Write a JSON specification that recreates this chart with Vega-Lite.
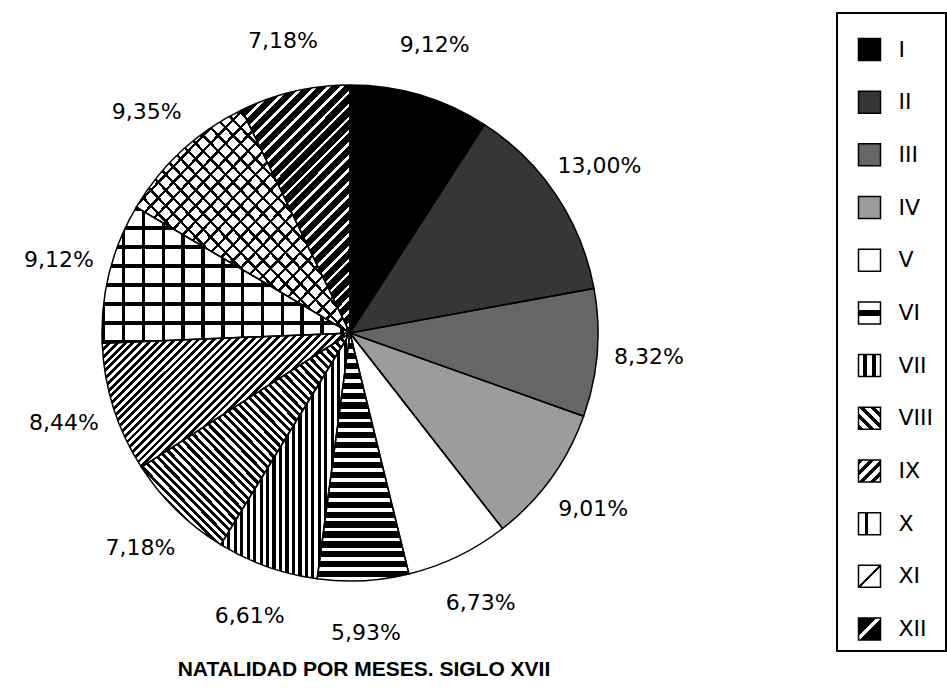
{
 "$schema": "https://vega.github.io/schema/vega-lite/v6.json",
 "padding": {"left": 0, "top": 12, "right": 0, "bottom": 0},
 "background": "white",
 "config": {"view": {"stroke": null}},
 "spacing": 136,
 "data": {"values": [
  {"mes": "I", "n": 1, "pct": 9.12, "etiqueta": "9,12%"},
  {"mes": "II", "n": 2, "pct": 13.00, "etiqueta": "13,00%"},
  {"mes": "III", "n": 3, "pct": 8.32, "etiqueta": "8,32%"},
  {"mes": "IV", "n": 4, "pct": 9.01, "etiqueta": "9,01%"},
  {"mes": "V", "n": 5, "pct": 6.73, "etiqueta": "6,73%"},
  {"mes": "VI", "n": 6, "pct": 5.93, "etiqueta": "5,93%"},
  {"mes": "VII", "n": 7, "pct": 6.61, "etiqueta": "6,61%"},
  {"mes": "VIII", "n": 8, "pct": 7.18, "etiqueta": "7,18%"},
  {"mes": "IX", "n": 9, "pct": 8.44, "etiqueta": "8,44%"},
  {"mes": "X", "n": 10, "pct": 9.12, "etiqueta": "9,12%"},
  {"mes": "XI", "n": 11, "pct": 9.35, "etiqueta": "9,35%"},
  {"mes": "XII", "n": 12, "pct": 7.18, "etiqueta": "7,18%"}
 ]},
 "hconcat": [
 {
 "width": 700,
 "height": 640,
 "title": {"text": "NATALIDAD POR MESES. SIGLO XVII", "orient": "bottom", "anchor": "middle", "dx": 14, "offset": 6, "font": "Liberation Sans", "fontSize": 21, "fontWeight": "bold", "color": "black"},
 "encoding": {
  "theta": {"field": "pct", "type": "quantitative", "stack": true},
  "order": {"field": "n", "type": "quantitative"}
 },
 "layer": [
  {
   "mark": {"type": "arc", "outerRadius": 248},
   "encoding": {
    "color": {
     "field": "mes", "type": "nominal",
     "scale": {"domain": ["I","II","III","IV","V","VI","VII","VIII","IX","X","XI","XII"],
               "range": ["#000000","#363636","#666666","#9c9c9c","#ffffff","#808080","#808080","#808080","#808080","#ffffff","#ffffff","#404040"]},
     "legend": null
    }
   }
  },
  {
   "mark": {"type": "arc", "outerRadius": 248},
   "encoding": {
    "fill": {
     "condition": [
      {"test": "datum.mes === 'VI'", "value": {"gradient": "linear", "x1": 0, "y1": 0, "x2": 0, "y2": 1, "stops": [
{"offset":0,"color":"#000"},{"offset":0.025,"color":"#000"},{"offset":0.025,"color":"#fff"},{"offset":0.04,"color":"#fff"},
{"offset":0.04,"color":"#000"},{"offset":0.065,"color":"#000"},{"offset":0.065,"color":"#fff"},{"offset":0.08,"color":"#fff"},
{"offset":0.08,"color":"#000"},{"offset":0.105,"color":"#000"},{"offset":0.105,"color":"#fff"},{"offset":0.12,"color":"#fff"},
{"offset":0.12,"color":"#000"},{"offset":0.145,"color":"#000"},{"offset":0.145,"color":"#fff"},{"offset":0.16,"color":"#fff"},
{"offset":0.16,"color":"#000"},{"offset":0.185,"color":"#000"},{"offset":0.185,"color":"#fff"},{"offset":0.2,"color":"#fff"},
{"offset":0.2,"color":"#000"},{"offset":0.225,"color":"#000"},{"offset":0.225,"color":"#fff"},{"offset":0.24,"color":"#fff"},
{"offset":0.24,"color":"#000"},{"offset":0.265,"color":"#000"},{"offset":0.265,"color":"#fff"},{"offset":0.28,"color":"#fff"},
{"offset":0.28,"color":"#000"},{"offset":0.305,"color":"#000"},{"offset":0.305,"color":"#fff"},{"offset":0.32,"color":"#fff"},
{"offset":0.32,"color":"#000"},{"offset":0.345,"color":"#000"},{"offset":0.345,"color":"#fff"},{"offset":0.36,"color":"#fff"},
{"offset":0.36,"color":"#000"},{"offset":0.385,"color":"#000"},{"offset":0.385,"color":"#fff"},{"offset":0.4,"color":"#fff"},
{"offset":0.4,"color":"#000"},{"offset":0.425,"color":"#000"},{"offset":0.425,"color":"#fff"},{"offset":0.44,"color":"#fff"},
{"offset":0.44,"color":"#000"},{"offset":0.465,"color":"#000"},{"offset":0.465,"color":"#fff"},{"offset":0.48,"color":"#fff"},
{"offset":0.48,"color":"#000"},{"offset":0.505,"color":"#000"},{"offset":0.505,"color":"#fff"},{"offset":0.52,"color":"#fff"},
{"offset":0.52,"color":"#000"},{"offset":0.545,"color":"#000"},{"offset":0.545,"color":"#fff"},{"offset":0.56,"color":"#fff"},
{"offset":0.56,"color":"#000"},{"offset":0.585,"color":"#000"},{"offset":0.585,"color":"#fff"},{"offset":0.6,"color":"#fff"},
{"offset":0.6,"color":"#000"},{"offset":0.625,"color":"#000"},{"offset":0.625,"color":"#fff"},{"offset":0.64,"color":"#fff"},
{"offset":0.64,"color":"#000"},{"offset":0.665,"color":"#000"},{"offset":0.665,"color":"#fff"},{"offset":0.68,"color":"#fff"},
{"offset":0.68,"color":"#000"},{"offset":0.705,"color":"#000"},{"offset":0.705,"color":"#fff"},{"offset":0.72,"color":"#fff"},
{"offset":0.72,"color":"#000"},{"offset":0.745,"color":"#000"},{"offset":0.745,"color":"#fff"},{"offset":0.76,"color":"#fff"},
{"offset":0.76,"color":"#000"},{"offset":0.785,"color":"#000"},{"offset":0.785,"color":"#fff"},{"offset":0.8,"color":"#fff"},
{"offset":0.8,"color":"#000"},{"offset":0.825,"color":"#000"},{"offset":0.825,"color":"#fff"},{"offset":0.84,"color":"#fff"},
{"offset":0.84,"color":"#000"},{"offset":0.865,"color":"#000"},{"offset":0.865,"color":"#fff"},{"offset":0.88,"color":"#fff"},
{"offset":0.88,"color":"#000"},{"offset":0.905,"color":"#000"},{"offset":0.905,"color":"#fff"},{"offset":0.92,"color":"#fff"},
{"offset":0.92,"color":"#000"},{"offset":0.945,"color":"#000"},{"offset":0.945,"color":"#fff"},{"offset":0.96,"color":"#fff"},
{"offset":0.96,"color":"#000"},{"offset":0.985,"color":"#000"},{"offset":0.985,"color":"#fff"},{"offset":1,"color":"#fff"}
      ]}},
      {"test": "datum.mes === 'VII'", "value": {"gradient": "linear", "x1": 0, "y1": 0, "x2": 1, "y2": 0, "stops": [
{"offset":0,"color":"#000"},{"offset":0.025,"color":"#000"},{"offset":0.025,"color":"#fff"},{"offset":0.05,"color":"#fff"},
{"offset":0.05,"color":"#000"},{"offset":0.075,"color":"#000"},{"offset":0.075,"color":"#fff"},{"offset":0.1,"color":"#fff"},
{"offset":0.1,"color":"#000"},{"offset":0.125,"color":"#000"},{"offset":0.125,"color":"#fff"},{"offset":0.15,"color":"#fff"},
{"offset":0.15,"color":"#000"},{"offset":0.175,"color":"#000"},{"offset":0.175,"color":"#fff"},{"offset":0.2,"color":"#fff"},
{"offset":0.2,"color":"#000"},{"offset":0.225,"color":"#000"},{"offset":0.225,"color":"#fff"},{"offset":0.25,"color":"#fff"},
{"offset":0.25,"color":"#000"},{"offset":0.275,"color":"#000"},{"offset":0.275,"color":"#fff"},{"offset":0.3,"color":"#fff"},
{"offset":0.3,"color":"#000"},{"offset":0.325,"color":"#000"},{"offset":0.325,"color":"#fff"},{"offset":0.35,"color":"#fff"},
{"offset":0.35,"color":"#000"},{"offset":0.375,"color":"#000"},{"offset":0.375,"color":"#fff"},{"offset":0.4,"color":"#fff"},
{"offset":0.4,"color":"#000"},{"offset":0.425,"color":"#000"},{"offset":0.425,"color":"#fff"},{"offset":0.45,"color":"#fff"},
{"offset":0.45,"color":"#000"},{"offset":0.475,"color":"#000"},{"offset":0.475,"color":"#fff"},{"offset":0.5,"color":"#fff"},
{"offset":0.5,"color":"#000"},{"offset":0.525,"color":"#000"},{"offset":0.525,"color":"#fff"},{"offset":0.55,"color":"#fff"},
{"offset":0.55,"color":"#000"},{"offset":0.575,"color":"#000"},{"offset":0.575,"color":"#fff"},{"offset":0.6,"color":"#fff"},
{"offset":0.6,"color":"#000"},{"offset":0.625,"color":"#000"},{"offset":0.625,"color":"#fff"},{"offset":0.65,"color":"#fff"},
{"offset":0.65,"color":"#000"},{"offset":0.675,"color":"#000"},{"offset":0.675,"color":"#fff"},{"offset":0.7,"color":"#fff"},
{"offset":0.7,"color":"#000"},{"offset":0.725,"color":"#000"},{"offset":0.725,"color":"#fff"},{"offset":0.75,"color":"#fff"},
{"offset":0.75,"color":"#000"},{"offset":0.775,"color":"#000"},{"offset":0.775,"color":"#fff"},{"offset":0.8,"color":"#fff"},
{"offset":0.8,"color":"#000"},{"offset":0.825,"color":"#000"},{"offset":0.825,"color":"#fff"},{"offset":0.85,"color":"#fff"},
{"offset":0.85,"color":"#000"},{"offset":0.875,"color":"#000"},{"offset":0.875,"color":"#fff"},{"offset":0.9,"color":"#fff"},
{"offset":0.9,"color":"#000"},{"offset":0.925,"color":"#000"},{"offset":0.925,"color":"#fff"},{"offset":0.95,"color":"#fff"},
{"offset":0.95,"color":"#000"},{"offset":0.975,"color":"#000"},{"offset":0.975,"color":"#fff"},{"offset":1,"color":"#fff"}
      ]}},
      {"test": "datum.mes === 'VIII'", "value": {"gradient": "linear", "x1": 0, "y1": 1, "x2": 1, "y2": 0, "stops": [
{"offset":0,"color":"#000"},{"offset":0.01,"color":"#000"},{"offset":0.01,"color":"#fff"},{"offset":0.02,"color":"#fff"},
{"offset":0.02,"color":"#000"},{"offset":0.03,"color":"#000"},{"offset":0.03,"color":"#fff"},{"offset":0.04,"color":"#fff"},
{"offset":0.04,"color":"#000"},{"offset":0.05,"color":"#000"},{"offset":0.05,"color":"#fff"},{"offset":0.06,"color":"#fff"},
{"offset":0.06,"color":"#000"},{"offset":0.07,"color":"#000"},{"offset":0.07,"color":"#fff"},{"offset":0.08,"color":"#fff"},
{"offset":0.08,"color":"#000"},{"offset":0.09,"color":"#000"},{"offset":0.09,"color":"#fff"},{"offset":0.1,"color":"#fff"},
{"offset":0.1,"color":"#000"},{"offset":0.11,"color":"#000"},{"offset":0.11,"color":"#fff"},{"offset":0.12,"color":"#fff"},
{"offset":0.12,"color":"#000"},{"offset":0.13,"color":"#000"},{"offset":0.13,"color":"#fff"},{"offset":0.14,"color":"#fff"},
{"offset":0.14,"color":"#000"},{"offset":0.15,"color":"#000"},{"offset":0.15,"color":"#fff"},{"offset":0.16,"color":"#fff"},
{"offset":0.16,"color":"#000"},{"offset":0.17,"color":"#000"},{"offset":0.17,"color":"#fff"},{"offset":0.18,"color":"#fff"},
{"offset":0.18,"color":"#000"},{"offset":0.19,"color":"#000"},{"offset":0.19,"color":"#fff"},{"offset":0.2,"color":"#fff"},
{"offset":0.2,"color":"#000"},{"offset":0.21,"color":"#000"},{"offset":0.21,"color":"#fff"},{"offset":0.22,"color":"#fff"},
{"offset":0.22,"color":"#000"},{"offset":0.23,"color":"#000"},{"offset":0.23,"color":"#fff"},{"offset":0.24,"color":"#fff"},
{"offset":0.24,"color":"#000"},{"offset":0.25,"color":"#000"},{"offset":0.25,"color":"#fff"},{"offset":0.26,"color":"#fff"},
{"offset":0.26,"color":"#000"},{"offset":0.27,"color":"#000"},{"offset":0.27,"color":"#fff"},{"offset":0.28,"color":"#fff"},
{"offset":0.28,"color":"#000"},{"offset":0.29,"color":"#000"},{"offset":0.29,"color":"#fff"},{"offset":0.3,"color":"#fff"},
{"offset":0.3,"color":"#000"},{"offset":0.31,"color":"#000"},{"offset":0.31,"color":"#fff"},{"offset":0.32,"color":"#fff"},
{"offset":0.32,"color":"#000"},{"offset":0.33,"color":"#000"},{"offset":0.33,"color":"#fff"},{"offset":0.34,"color":"#fff"},
{"offset":0.34,"color":"#000"},{"offset":0.35,"color":"#000"},{"offset":0.35,"color":"#fff"},{"offset":0.36,"color":"#fff"},
{"offset":0.36,"color":"#000"},{"offset":0.37,"color":"#000"},{"offset":0.37,"color":"#fff"},{"offset":0.38,"color":"#fff"},
{"offset":0.38,"color":"#000"},{"offset":0.39,"color":"#000"},{"offset":0.39,"color":"#fff"},{"offset":0.4,"color":"#fff"},
{"offset":0.4,"color":"#000"},{"offset":0.41,"color":"#000"},{"offset":0.41,"color":"#fff"},{"offset":0.42,"color":"#fff"},
{"offset":0.42,"color":"#000"},{"offset":0.43,"color":"#000"},{"offset":0.43,"color":"#fff"},{"offset":0.44,"color":"#fff"},
{"offset":0.44,"color":"#000"},{"offset":0.45,"color":"#000"},{"offset":0.45,"color":"#fff"},{"offset":0.46,"color":"#fff"},
{"offset":0.46,"color":"#000"},{"offset":0.47,"color":"#000"},{"offset":0.47,"color":"#fff"},{"offset":0.48,"color":"#fff"},
{"offset":0.48,"color":"#000"},{"offset":0.49,"color":"#000"},{"offset":0.49,"color":"#fff"},{"offset":0.5,"color":"#fff"},
{"offset":0.5,"color":"#000"},{"offset":0.51,"color":"#000"},{"offset":0.51,"color":"#fff"},{"offset":0.52,"color":"#fff"},
{"offset":0.52,"color":"#000"},{"offset":0.53,"color":"#000"},{"offset":0.53,"color":"#fff"},{"offset":0.54,"color":"#fff"},
{"offset":0.54,"color":"#000"},{"offset":0.55,"color":"#000"},{"offset":0.55,"color":"#fff"},{"offset":0.56,"color":"#fff"},
{"offset":0.56,"color":"#000"},{"offset":0.57,"color":"#000"},{"offset":0.57,"color":"#fff"},{"offset":0.58,"color":"#fff"},
{"offset":0.58,"color":"#000"},{"offset":0.59,"color":"#000"},{"offset":0.59,"color":"#fff"},{"offset":0.6,"color":"#fff"},
{"offset":0.6,"color":"#000"},{"offset":0.61,"color":"#000"},{"offset":0.61,"color":"#fff"},{"offset":0.62,"color":"#fff"},
{"offset":0.62,"color":"#000"},{"offset":0.63,"color":"#000"},{"offset":0.63,"color":"#fff"},{"offset":0.64,"color":"#fff"},
{"offset":0.64,"color":"#000"},{"offset":0.65,"color":"#000"},{"offset":0.65,"color":"#fff"},{"offset":0.66,"color":"#fff"},
{"offset":0.66,"color":"#000"},{"offset":0.67,"color":"#000"},{"offset":0.67,"color":"#fff"},{"offset":0.68,"color":"#fff"},
{"offset":0.68,"color":"#000"},{"offset":0.69,"color":"#000"},{"offset":0.69,"color":"#fff"},{"offset":0.7,"color":"#fff"},
{"offset":0.7,"color":"#000"},{"offset":0.71,"color":"#000"},{"offset":0.71,"color":"#fff"},{"offset":0.72,"color":"#fff"},
{"offset":0.72,"color":"#000"},{"offset":0.73,"color":"#000"},{"offset":0.73,"color":"#fff"},{"offset":0.74,"color":"#fff"},
{"offset":0.74,"color":"#000"},{"offset":0.75,"color":"#000"},{"offset":0.75,"color":"#fff"},{"offset":0.76,"color":"#fff"},
{"offset":0.76,"color":"#000"},{"offset":0.77,"color":"#000"},{"offset":0.77,"color":"#fff"},{"offset":0.78,"color":"#fff"},
{"offset":0.78,"color":"#000"},{"offset":0.79,"color":"#000"},{"offset":0.79,"color":"#fff"},{"offset":0.8,"color":"#fff"},
{"offset":0.8,"color":"#000"},{"offset":0.81,"color":"#000"},{"offset":0.81,"color":"#fff"},{"offset":0.82,"color":"#fff"},
{"offset":0.82,"color":"#000"},{"offset":0.83,"color":"#000"},{"offset":0.83,"color":"#fff"},{"offset":0.84,"color":"#fff"},
{"offset":0.84,"color":"#000"},{"offset":0.85,"color":"#000"},{"offset":0.85,"color":"#fff"},{"offset":0.86,"color":"#fff"},
{"offset":0.86,"color":"#000"},{"offset":0.87,"color":"#000"},{"offset":0.87,"color":"#fff"},{"offset":0.88,"color":"#fff"},
{"offset":0.88,"color":"#000"},{"offset":0.89,"color":"#000"},{"offset":0.89,"color":"#fff"},{"offset":0.9,"color":"#fff"},
{"offset":0.9,"color":"#000"},{"offset":0.91,"color":"#000"},{"offset":0.91,"color":"#fff"},{"offset":0.92,"color":"#fff"},
{"offset":0.92,"color":"#000"},{"offset":0.93,"color":"#000"},{"offset":0.93,"color":"#fff"},{"offset":0.94,"color":"#fff"},
{"offset":0.94,"color":"#000"},{"offset":0.95,"color":"#000"},{"offset":0.95,"color":"#fff"},{"offset":0.96,"color":"#fff"},
{"offset":0.96,"color":"#000"},{"offset":0.97,"color":"#000"},{"offset":0.97,"color":"#fff"},{"offset":0.98,"color":"#fff"},
{"offset":0.98,"color":"#000"},{"offset":0.99,"color":"#000"},{"offset":0.99,"color":"#fff"},{"offset":1,"color":"#fff"}
      ]}},
      {"test": "datum.mes === 'IX'", "value": {"gradient": "linear", "x1": 0, "y1": 0, "x2": 1.21, "y2": 0.655, "stops": [
{"offset":0,"color":"#000"},{"offset":0.01,"color":"#000"},{"offset":0.01,"color":"#fff"},{"offset":0.02,"color":"#fff"},
{"offset":0.02,"color":"#000"},{"offset":0.03,"color":"#000"},{"offset":0.03,"color":"#fff"},{"offset":0.04,"color":"#fff"},
{"offset":0.04,"color":"#000"},{"offset":0.05,"color":"#000"},{"offset":0.05,"color":"#fff"},{"offset":0.06,"color":"#fff"},
{"offset":0.06,"color":"#000"},{"offset":0.07,"color":"#000"},{"offset":0.07,"color":"#fff"},{"offset":0.08,"color":"#fff"},
{"offset":0.08,"color":"#000"},{"offset":0.09,"color":"#000"},{"offset":0.09,"color":"#fff"},{"offset":0.1,"color":"#fff"},
{"offset":0.1,"color":"#000"},{"offset":0.11,"color":"#000"},{"offset":0.11,"color":"#fff"},{"offset":0.12,"color":"#fff"},
{"offset":0.12,"color":"#000"},{"offset":0.13,"color":"#000"},{"offset":0.13,"color":"#fff"},{"offset":0.14,"color":"#fff"},
{"offset":0.14,"color":"#000"},{"offset":0.15,"color":"#000"},{"offset":0.15,"color":"#fff"},{"offset":0.16,"color":"#fff"},
{"offset":0.16,"color":"#000"},{"offset":0.17,"color":"#000"},{"offset":0.17,"color":"#fff"},{"offset":0.18,"color":"#fff"},
{"offset":0.18,"color":"#000"},{"offset":0.19,"color":"#000"},{"offset":0.19,"color":"#fff"},{"offset":0.2,"color":"#fff"},
{"offset":0.2,"color":"#000"},{"offset":0.21,"color":"#000"},{"offset":0.21,"color":"#fff"},{"offset":0.22,"color":"#fff"},
{"offset":0.22,"color":"#000"},{"offset":0.23,"color":"#000"},{"offset":0.23,"color":"#fff"},{"offset":0.24,"color":"#fff"},
{"offset":0.24,"color":"#000"},{"offset":0.25,"color":"#000"},{"offset":0.25,"color":"#fff"},{"offset":0.26,"color":"#fff"},
{"offset":0.26,"color":"#000"},{"offset":0.27,"color":"#000"},{"offset":0.27,"color":"#fff"},{"offset":0.28,"color":"#fff"},
{"offset":0.28,"color":"#000"},{"offset":0.29,"color":"#000"},{"offset":0.29,"color":"#fff"},{"offset":0.3,"color":"#fff"},
{"offset":0.3,"color":"#000"},{"offset":0.31,"color":"#000"},{"offset":0.31,"color":"#fff"},{"offset":0.32,"color":"#fff"},
{"offset":0.32,"color":"#000"},{"offset":0.33,"color":"#000"},{"offset":0.33,"color":"#fff"},{"offset":0.34,"color":"#fff"},
{"offset":0.34,"color":"#000"},{"offset":0.35,"color":"#000"},{"offset":0.35,"color":"#fff"},{"offset":0.36,"color":"#fff"},
{"offset":0.36,"color":"#000"},{"offset":0.37,"color":"#000"},{"offset":0.37,"color":"#fff"},{"offset":0.38,"color":"#fff"},
{"offset":0.38,"color":"#000"},{"offset":0.39,"color":"#000"},{"offset":0.39,"color":"#fff"},{"offset":0.4,"color":"#fff"},
{"offset":0.4,"color":"#000"},{"offset":0.41,"color":"#000"},{"offset":0.41,"color":"#fff"},{"offset":0.42,"color":"#fff"},
{"offset":0.42,"color":"#000"},{"offset":0.43,"color":"#000"},{"offset":0.43,"color":"#fff"},{"offset":0.44,"color":"#fff"},
{"offset":0.44,"color":"#000"},{"offset":0.45,"color":"#000"},{"offset":0.45,"color":"#fff"},{"offset":0.46,"color":"#fff"},
{"offset":0.46,"color":"#000"},{"offset":0.47,"color":"#000"},{"offset":0.47,"color":"#fff"},{"offset":0.48,"color":"#fff"},
{"offset":0.48,"color":"#000"},{"offset":0.49,"color":"#000"},{"offset":0.49,"color":"#fff"},{"offset":0.5,"color":"#fff"},
{"offset":0.5,"color":"#000"},{"offset":0.51,"color":"#000"},{"offset":0.51,"color":"#fff"},{"offset":0.52,"color":"#fff"},
{"offset":0.52,"color":"#000"},{"offset":0.53,"color":"#000"},{"offset":0.53,"color":"#fff"},{"offset":0.54,"color":"#fff"},
{"offset":0.54,"color":"#000"},{"offset":0.55,"color":"#000"},{"offset":0.55,"color":"#fff"},{"offset":0.56,"color":"#fff"},
{"offset":0.56,"color":"#000"},{"offset":0.57,"color":"#000"},{"offset":0.57,"color":"#fff"},{"offset":0.58,"color":"#fff"},
{"offset":0.58,"color":"#000"},{"offset":0.59,"color":"#000"},{"offset":0.59,"color":"#fff"},{"offset":0.6,"color":"#fff"},
{"offset":0.6,"color":"#000"},{"offset":0.61,"color":"#000"},{"offset":0.61,"color":"#fff"},{"offset":0.62,"color":"#fff"},
{"offset":0.62,"color":"#000"},{"offset":0.63,"color":"#000"},{"offset":0.63,"color":"#fff"},{"offset":0.64,"color":"#fff"},
{"offset":0.64,"color":"#000"},{"offset":0.65,"color":"#000"},{"offset":0.65,"color":"#fff"},{"offset":0.66,"color":"#fff"},
{"offset":0.66,"color":"#000"},{"offset":0.67,"color":"#000"},{"offset":0.67,"color":"#fff"},{"offset":0.68,"color":"#fff"},
{"offset":0.68,"color":"#000"},{"offset":0.69,"color":"#000"},{"offset":0.69,"color":"#fff"},{"offset":0.7,"color":"#fff"},
{"offset":0.7,"color":"#000"},{"offset":0.71,"color":"#000"},{"offset":0.71,"color":"#fff"},{"offset":0.72,"color":"#fff"},
{"offset":0.72,"color":"#000"},{"offset":0.73,"color":"#000"},{"offset":0.73,"color":"#fff"},{"offset":0.74,"color":"#fff"},
{"offset":0.74,"color":"#000"},{"offset":0.75,"color":"#000"},{"offset":0.75,"color":"#fff"},{"offset":0.76,"color":"#fff"},
{"offset":0.76,"color":"#000"},{"offset":0.77,"color":"#000"},{"offset":0.77,"color":"#fff"},{"offset":0.78,"color":"#fff"},
{"offset":0.78,"color":"#000"},{"offset":0.79,"color":"#000"},{"offset":0.79,"color":"#fff"},{"offset":0.8,"color":"#fff"},
{"offset":0.8,"color":"#000"},{"offset":0.81,"color":"#000"},{"offset":0.81,"color":"#fff"},{"offset":0.82,"color":"#fff"},
{"offset":0.82,"color":"#000"},{"offset":0.83,"color":"#000"},{"offset":0.83,"color":"#fff"},{"offset":0.84,"color":"#fff"},
{"offset":0.84,"color":"#000"},{"offset":0.85,"color":"#000"},{"offset":0.85,"color":"#fff"},{"offset":0.86,"color":"#fff"},
{"offset":0.86,"color":"#000"},{"offset":0.87,"color":"#000"},{"offset":0.87,"color":"#fff"},{"offset":0.88,"color":"#fff"},
{"offset":0.88,"color":"#000"},{"offset":0.89,"color":"#000"},{"offset":0.89,"color":"#fff"},{"offset":0.9,"color":"#fff"},
{"offset":0.9,"color":"#000"},{"offset":0.91,"color":"#000"},{"offset":0.91,"color":"#fff"},{"offset":0.92,"color":"#fff"},
{"offset":0.92,"color":"#000"},{"offset":0.93,"color":"#000"},{"offset":0.93,"color":"#fff"},{"offset":0.94,"color":"#fff"},
{"offset":0.94,"color":"#000"},{"offset":0.95,"color":"#000"},{"offset":0.95,"color":"#fff"},{"offset":0.96,"color":"#fff"},
{"offset":0.96,"color":"#000"},{"offset":0.97,"color":"#000"},{"offset":0.97,"color":"#fff"},{"offset":0.98,"color":"#fff"},
{"offset":0.98,"color":"#000"},{"offset":0.99,"color":"#000"},{"offset":0.99,"color":"#fff"},{"offset":1,"color":"#fff"}
      ]}},
      {"test": "datum.mes === 'X'", "value": {"gradient": "linear", "x1": 0, "y1": 0, "x2": 0, "y2": 1, "stops": [
{"offset":0,"color":"#000"},{"offset":0.025,"color":"#000"},{"offset":0.025,"color":"#fff"},{"offset":0.14,"color":"#fff"},
{"offset":0.14,"color":"#000"},{"offset":0.165,"color":"#000"},{"offset":0.165,"color":"#fff"},{"offset":0.28,"color":"#fff"},
{"offset":0.28,"color":"#000"},{"offset":0.305,"color":"#000"},{"offset":0.305,"color":"#fff"},{"offset":0.42,"color":"#fff"},
{"offset":0.42,"color":"#000"},{"offset":0.445,"color":"#000"},{"offset":0.445,"color":"#fff"},{"offset":0.56,"color":"#fff"},
{"offset":0.56,"color":"#000"},{"offset":0.585,"color":"#000"},{"offset":0.585,"color":"#fff"},{"offset":0.7,"color":"#fff"},
{"offset":0.7,"color":"#000"},{"offset":0.725,"color":"#000"},{"offset":0.725,"color":"#fff"},{"offset":0.84,"color":"#fff"},
{"offset":0.84,"color":"#000"},{"offset":0.865,"color":"#000"},{"offset":0.865,"color":"#fff"},{"offset":0.98,"color":"#fff"},
{"offset":0.98,"color":"#000"},{"offset":1,"color":"#000"}
      ]}},
      {"test": "datum.mes === 'XI'", "value": {"gradient": "linear", "x1": 0, "y1": 0, "x2": 1, "y2": 1, "stops": [
{"offset":0,"color":"#000"},{"offset":0.008,"color":"#000"},{"offset":0.008,"color":"#fff"},{"offset":0.035,"color":"#fff"},
{"offset":0.035,"color":"#000"},{"offset":0.043,"color":"#000"},{"offset":0.043,"color":"#fff"},{"offset":0.07,"color":"#fff"},
{"offset":0.07,"color":"#000"},{"offset":0.078,"color":"#000"},{"offset":0.078,"color":"#fff"},{"offset":0.105,"color":"#fff"},
{"offset":0.105,"color":"#000"},{"offset":0.113,"color":"#000"},{"offset":0.113,"color":"#fff"},{"offset":0.14,"color":"#fff"},
{"offset":0.14,"color":"#000"},{"offset":0.148,"color":"#000"},{"offset":0.148,"color":"#fff"},{"offset":0.175,"color":"#fff"},
{"offset":0.175,"color":"#000"},{"offset":0.183,"color":"#000"},{"offset":0.183,"color":"#fff"},{"offset":0.21,"color":"#fff"},
{"offset":0.21,"color":"#000"},{"offset":0.218,"color":"#000"},{"offset":0.218,"color":"#fff"},{"offset":0.245,"color":"#fff"},
{"offset":0.245,"color":"#000"},{"offset":0.253,"color":"#000"},{"offset":0.253,"color":"#fff"},{"offset":0.28,"color":"#fff"},
{"offset":0.28,"color":"#000"},{"offset":0.288,"color":"#000"},{"offset":0.288,"color":"#fff"},{"offset":0.315,"color":"#fff"},
{"offset":0.315,"color":"#000"},{"offset":0.323,"color":"#000"},{"offset":0.323,"color":"#fff"},{"offset":0.35,"color":"#fff"},
{"offset":0.35,"color":"#000"},{"offset":0.358,"color":"#000"},{"offset":0.358,"color":"#fff"},{"offset":0.385,"color":"#fff"},
{"offset":0.385,"color":"#000"},{"offset":0.393,"color":"#000"},{"offset":0.393,"color":"#fff"},{"offset":0.42,"color":"#fff"},
{"offset":0.42,"color":"#000"},{"offset":0.428,"color":"#000"},{"offset":0.428,"color":"#fff"},{"offset":0.455,"color":"#fff"},
{"offset":0.455,"color":"#000"},{"offset":0.463,"color":"#000"},{"offset":0.463,"color":"#fff"},{"offset":0.49,"color":"#fff"},
{"offset":0.49,"color":"#000"},{"offset":0.498,"color":"#000"},{"offset":0.498,"color":"#fff"},{"offset":0.525,"color":"#fff"},
{"offset":0.525,"color":"#000"},{"offset":0.533,"color":"#000"},{"offset":0.533,"color":"#fff"},{"offset":0.56,"color":"#fff"},
{"offset":0.56,"color":"#000"},{"offset":0.568,"color":"#000"},{"offset":0.568,"color":"#fff"},{"offset":0.595,"color":"#fff"},
{"offset":0.595,"color":"#000"},{"offset":0.603,"color":"#000"},{"offset":0.603,"color":"#fff"},{"offset":0.63,"color":"#fff"},
{"offset":0.63,"color":"#000"},{"offset":0.638,"color":"#000"},{"offset":0.638,"color":"#fff"},{"offset":0.665,"color":"#fff"},
{"offset":0.665,"color":"#000"},{"offset":0.673,"color":"#000"},{"offset":0.673,"color":"#fff"},{"offset":0.7,"color":"#fff"},
{"offset":0.7,"color":"#000"},{"offset":0.708,"color":"#000"},{"offset":0.708,"color":"#fff"},{"offset":0.735,"color":"#fff"},
{"offset":0.735,"color":"#000"},{"offset":0.743,"color":"#000"},{"offset":0.743,"color":"#fff"},{"offset":0.77,"color":"#fff"},
{"offset":0.77,"color":"#000"},{"offset":0.778,"color":"#000"},{"offset":0.778,"color":"#fff"},{"offset":0.805,"color":"#fff"},
{"offset":0.805,"color":"#000"},{"offset":0.813,"color":"#000"},{"offset":0.813,"color":"#fff"},{"offset":0.84,"color":"#fff"},
{"offset":0.84,"color":"#000"},{"offset":0.848,"color":"#000"},{"offset":0.848,"color":"#fff"},{"offset":0.875,"color":"#fff"},
{"offset":0.875,"color":"#000"},{"offset":0.883,"color":"#000"},{"offset":0.883,"color":"#fff"},{"offset":0.91,"color":"#fff"},
{"offset":0.91,"color":"#000"},{"offset":0.918,"color":"#000"},{"offset":0.918,"color":"#fff"},{"offset":0.945,"color":"#fff"},
{"offset":0.945,"color":"#000"},{"offset":0.953,"color":"#000"},{"offset":0.953,"color":"#fff"},{"offset":0.98,"color":"#fff"},
{"offset":0.98,"color":"#000"},{"offset":0.988,"color":"#000"},{"offset":0.988,"color":"#fff"},{"offset":1,"color":"#fff"}
      ]}},
      {"test": "datum.mes === 'XII'", "value": {"gradient": "linear", "x1": 0, "y1": 0, "x2": 0.546, "y2": 1.25, "stops": [
{"offset":0,"color":"#000"},{"offset":0.025,"color":"#000"},{"offset":0.025,"color":"#fff"},{"offset":0.035,"color":"#fff"},
{"offset":0.035,"color":"#000"},{"offset":0.06,"color":"#000"},{"offset":0.06,"color":"#fff"},{"offset":0.07,"color":"#fff"},
{"offset":0.07,"color":"#000"},{"offset":0.095,"color":"#000"},{"offset":0.095,"color":"#fff"},{"offset":0.105,"color":"#fff"},
{"offset":0.105,"color":"#000"},{"offset":0.13,"color":"#000"},{"offset":0.13,"color":"#fff"},{"offset":0.14,"color":"#fff"},
{"offset":0.14,"color":"#000"},{"offset":0.165,"color":"#000"},{"offset":0.165,"color":"#fff"},{"offset":0.175,"color":"#fff"},
{"offset":0.175,"color":"#000"},{"offset":0.2,"color":"#000"},{"offset":0.2,"color":"#fff"},{"offset":0.21,"color":"#fff"},
{"offset":0.21,"color":"#000"},{"offset":0.235,"color":"#000"},{"offset":0.235,"color":"#fff"},{"offset":0.245,"color":"#fff"},
{"offset":0.245,"color":"#000"},{"offset":0.27,"color":"#000"},{"offset":0.27,"color":"#fff"},{"offset":0.28,"color":"#fff"},
{"offset":0.28,"color":"#000"},{"offset":0.305,"color":"#000"},{"offset":0.305,"color":"#fff"},{"offset":0.315,"color":"#fff"},
{"offset":0.315,"color":"#000"},{"offset":0.34,"color":"#000"},{"offset":0.34,"color":"#fff"},{"offset":0.35,"color":"#fff"},
{"offset":0.35,"color":"#000"},{"offset":0.375,"color":"#000"},{"offset":0.375,"color":"#fff"},{"offset":0.385,"color":"#fff"},
{"offset":0.385,"color":"#000"},{"offset":0.41,"color":"#000"},{"offset":0.41,"color":"#fff"},{"offset":0.42,"color":"#fff"},
{"offset":0.42,"color":"#000"},{"offset":0.445,"color":"#000"},{"offset":0.445,"color":"#fff"},{"offset":0.455,"color":"#fff"},
{"offset":0.455,"color":"#000"},{"offset":0.48,"color":"#000"},{"offset":0.48,"color":"#fff"},{"offset":0.49,"color":"#fff"},
{"offset":0.49,"color":"#000"},{"offset":0.515,"color":"#000"},{"offset":0.515,"color":"#fff"},{"offset":0.525,"color":"#fff"},
{"offset":0.525,"color":"#000"},{"offset":0.55,"color":"#000"},{"offset":0.55,"color":"#fff"},{"offset":0.56,"color":"#fff"},
{"offset":0.56,"color":"#000"},{"offset":0.585,"color":"#000"},{"offset":0.585,"color":"#fff"},{"offset":0.595,"color":"#fff"},
{"offset":0.595,"color":"#000"},{"offset":0.62,"color":"#000"},{"offset":0.62,"color":"#fff"},{"offset":0.63,"color":"#fff"},
{"offset":0.63,"color":"#000"},{"offset":0.655,"color":"#000"},{"offset":0.655,"color":"#fff"},{"offset":0.665,"color":"#fff"},
{"offset":0.665,"color":"#000"},{"offset":0.69,"color":"#000"},{"offset":0.69,"color":"#fff"},{"offset":0.7,"color":"#fff"},
{"offset":0.7,"color":"#000"},{"offset":0.725,"color":"#000"},{"offset":0.725,"color":"#fff"},{"offset":0.735,"color":"#fff"},
{"offset":0.735,"color":"#000"},{"offset":0.76,"color":"#000"},{"offset":0.76,"color":"#fff"},{"offset":0.77,"color":"#fff"},
{"offset":0.77,"color":"#000"},{"offset":0.795,"color":"#000"},{"offset":0.795,"color":"#fff"},{"offset":0.805,"color":"#fff"},
{"offset":0.805,"color":"#000"},{"offset":0.83,"color":"#000"},{"offset":0.83,"color":"#fff"},{"offset":0.84,"color":"#fff"},
{"offset":0.84,"color":"#000"},{"offset":0.865,"color":"#000"},{"offset":0.865,"color":"#fff"},{"offset":0.875,"color":"#fff"},
{"offset":0.875,"color":"#000"},{"offset":0.9,"color":"#000"},{"offset":0.9,"color":"#fff"},{"offset":0.91,"color":"#fff"},
{"offset":0.91,"color":"#000"},{"offset":0.935,"color":"#000"},{"offset":0.935,"color":"#fff"},{"offset":0.945,"color":"#fff"},
{"offset":0.945,"color":"#000"},{"offset":0.97,"color":"#000"},{"offset":0.97,"color":"#fff"},{"offset":0.98,"color":"#fff"},
{"offset":0.98,"color":"#000"},{"offset":1,"color":"#000"}
      ]}}
     ],
     "value": "transparent"
    }
   }
  },
  {
   "mark": {"type": "arc", "outerRadius": 248, "stroke": "black", "strokeWidth": 1.5},
   "encoding": {
    "fill": {
     "condition": [
      {"test": "datum.mes === 'X'", "value": {"gradient": "linear", "x1": 0, "y1": 0, "x2": 1, "y2": 0, "stops": [
{"offset":0,"color":"#000"},{"offset":0.014,"color":"#000"},{"offset":0.014,"color":"rgba(0,0,0,0)"},{"offset":0.08,"color":"rgba(0,0,0,0)"},
{"offset":0.08,"color":"#000"},{"offset":0.094,"color":"#000"},{"offset":0.094,"color":"rgba(0,0,0,0)"},{"offset":0.16,"color":"rgba(0,0,0,0)"},
{"offset":0.16,"color":"#000"},{"offset":0.174,"color":"#000"},{"offset":0.174,"color":"rgba(0,0,0,0)"},{"offset":0.24,"color":"rgba(0,0,0,0)"},
{"offset":0.24,"color":"#000"},{"offset":0.254,"color":"#000"},{"offset":0.254,"color":"rgba(0,0,0,0)"},{"offset":0.32,"color":"rgba(0,0,0,0)"},
{"offset":0.32,"color":"#000"},{"offset":0.334,"color":"#000"},{"offset":0.334,"color":"rgba(0,0,0,0)"},{"offset":0.4,"color":"rgba(0,0,0,0)"},
{"offset":0.4,"color":"#000"},{"offset":0.414,"color":"#000"},{"offset":0.414,"color":"rgba(0,0,0,0)"},{"offset":0.48,"color":"rgba(0,0,0,0)"},
{"offset":0.48,"color":"#000"},{"offset":0.494,"color":"#000"},{"offset":0.494,"color":"rgba(0,0,0,0)"},{"offset":0.56,"color":"rgba(0,0,0,0)"},
{"offset":0.56,"color":"#000"},{"offset":0.574,"color":"#000"},{"offset":0.574,"color":"rgba(0,0,0,0)"},{"offset":0.64,"color":"rgba(0,0,0,0)"},
{"offset":0.64,"color":"#000"},{"offset":0.654,"color":"#000"},{"offset":0.654,"color":"rgba(0,0,0,0)"},{"offset":0.72,"color":"rgba(0,0,0,0)"},
{"offset":0.72,"color":"#000"},{"offset":0.734,"color":"#000"},{"offset":0.734,"color":"rgba(0,0,0,0)"},{"offset":0.8,"color":"rgba(0,0,0,0)"},
{"offset":0.8,"color":"#000"},{"offset":0.814,"color":"#000"},{"offset":0.814,"color":"rgba(0,0,0,0)"},{"offset":0.88,"color":"rgba(0,0,0,0)"},
{"offset":0.88,"color":"#000"},{"offset":0.894,"color":"#000"},{"offset":0.894,"color":"rgba(0,0,0,0)"},{"offset":0.96,"color":"rgba(0,0,0,0)"},
{"offset":0.96,"color":"#000"},{"offset":0.974,"color":"#000"},{"offset":0.974,"color":"rgba(0,0,0,0)"},{"offset":1,"color":"rgba(0,0,0,0)"}
      ]}},
      {"test": "datum.mes === 'XI'", "value": {"gradient": "linear", "x1": 0, "y1": 1, "x2": 1, "y2": 0, "stops": [
{"offset":0,"color":"#000"},{"offset":0.008,"color":"#000"},{"offset":0.008,"color":"rgba(0,0,0,0)"},{"offset":0.035,"color":"rgba(0,0,0,0)"},
{"offset":0.035,"color":"#000"},{"offset":0.043,"color":"#000"},{"offset":0.043,"color":"rgba(0,0,0,0)"},{"offset":0.07,"color":"rgba(0,0,0,0)"},
{"offset":0.07,"color":"#000"},{"offset":0.078,"color":"#000"},{"offset":0.078,"color":"rgba(0,0,0,0)"},{"offset":0.105,"color":"rgba(0,0,0,0)"},
{"offset":0.105,"color":"#000"},{"offset":0.113,"color":"#000"},{"offset":0.113,"color":"rgba(0,0,0,0)"},{"offset":0.14,"color":"rgba(0,0,0,0)"},
{"offset":0.14,"color":"#000"},{"offset":0.148,"color":"#000"},{"offset":0.148,"color":"rgba(0,0,0,0)"},{"offset":0.175,"color":"rgba(0,0,0,0)"},
{"offset":0.175,"color":"#000"},{"offset":0.183,"color":"#000"},{"offset":0.183,"color":"rgba(0,0,0,0)"},{"offset":0.21,"color":"rgba(0,0,0,0)"},
{"offset":0.21,"color":"#000"},{"offset":0.218,"color":"#000"},{"offset":0.218,"color":"rgba(0,0,0,0)"},{"offset":0.245,"color":"rgba(0,0,0,0)"},
{"offset":0.245,"color":"#000"},{"offset":0.253,"color":"#000"},{"offset":0.253,"color":"rgba(0,0,0,0)"},{"offset":0.28,"color":"rgba(0,0,0,0)"},
{"offset":0.28,"color":"#000"},{"offset":0.288,"color":"#000"},{"offset":0.288,"color":"rgba(0,0,0,0)"},{"offset":0.315,"color":"rgba(0,0,0,0)"},
{"offset":0.315,"color":"#000"},{"offset":0.323,"color":"#000"},{"offset":0.323,"color":"rgba(0,0,0,0)"},{"offset":0.35,"color":"rgba(0,0,0,0)"},
{"offset":0.35,"color":"#000"},{"offset":0.358,"color":"#000"},{"offset":0.358,"color":"rgba(0,0,0,0)"},{"offset":0.385,"color":"rgba(0,0,0,0)"},
{"offset":0.385,"color":"#000"},{"offset":0.393,"color":"#000"},{"offset":0.393,"color":"rgba(0,0,0,0)"},{"offset":0.42,"color":"rgba(0,0,0,0)"},
{"offset":0.42,"color":"#000"},{"offset":0.428,"color":"#000"},{"offset":0.428,"color":"rgba(0,0,0,0)"},{"offset":0.455,"color":"rgba(0,0,0,0)"},
{"offset":0.455,"color":"#000"},{"offset":0.463,"color":"#000"},{"offset":0.463,"color":"rgba(0,0,0,0)"},{"offset":0.49,"color":"rgba(0,0,0,0)"},
{"offset":0.49,"color":"#000"},{"offset":0.498,"color":"#000"},{"offset":0.498,"color":"rgba(0,0,0,0)"},{"offset":0.525,"color":"rgba(0,0,0,0)"},
{"offset":0.525,"color":"#000"},{"offset":0.533,"color":"#000"},{"offset":0.533,"color":"rgba(0,0,0,0)"},{"offset":0.56,"color":"rgba(0,0,0,0)"},
{"offset":0.56,"color":"#000"},{"offset":0.568,"color":"#000"},{"offset":0.568,"color":"rgba(0,0,0,0)"},{"offset":0.595,"color":"rgba(0,0,0,0)"},
{"offset":0.595,"color":"#000"},{"offset":0.603,"color":"#000"},{"offset":0.603,"color":"rgba(0,0,0,0)"},{"offset":0.63,"color":"rgba(0,0,0,0)"},
{"offset":0.63,"color":"#000"},{"offset":0.638,"color":"#000"},{"offset":0.638,"color":"rgba(0,0,0,0)"},{"offset":0.665,"color":"rgba(0,0,0,0)"},
{"offset":0.665,"color":"#000"},{"offset":0.673,"color":"#000"},{"offset":0.673,"color":"rgba(0,0,0,0)"},{"offset":0.7,"color":"rgba(0,0,0,0)"},
{"offset":0.7,"color":"#000"},{"offset":0.708,"color":"#000"},{"offset":0.708,"color":"rgba(0,0,0,0)"},{"offset":0.735,"color":"rgba(0,0,0,0)"},
{"offset":0.735,"color":"#000"},{"offset":0.743,"color":"#000"},{"offset":0.743,"color":"rgba(0,0,0,0)"},{"offset":0.77,"color":"rgba(0,0,0,0)"},
{"offset":0.77,"color":"#000"},{"offset":0.778,"color":"#000"},{"offset":0.778,"color":"rgba(0,0,0,0)"},{"offset":0.805,"color":"rgba(0,0,0,0)"},
{"offset":0.805,"color":"#000"},{"offset":0.813,"color":"#000"},{"offset":0.813,"color":"rgba(0,0,0,0)"},{"offset":0.84,"color":"rgba(0,0,0,0)"},
{"offset":0.84,"color":"#000"},{"offset":0.848,"color":"#000"},{"offset":0.848,"color":"rgba(0,0,0,0)"},{"offset":0.875,"color":"rgba(0,0,0,0)"},
{"offset":0.875,"color":"#000"},{"offset":0.883,"color":"#000"},{"offset":0.883,"color":"rgba(0,0,0,0)"},{"offset":0.91,"color":"rgba(0,0,0,0)"},
{"offset":0.91,"color":"#000"},{"offset":0.918,"color":"#000"},{"offset":0.918,"color":"rgba(0,0,0,0)"},{"offset":0.945,"color":"rgba(0,0,0,0)"},
{"offset":0.945,"color":"#000"},{"offset":0.953,"color":"#000"},{"offset":0.953,"color":"rgba(0,0,0,0)"},{"offset":0.98,"color":"rgba(0,0,0,0)"},
{"offset":0.98,"color":"#000"},{"offset":0.988,"color":"#000"},{"offset":0.988,"color":"rgba(0,0,0,0)"},{"offset":1,"color":"rgba(0,0,0,0)"}
      ]}}
     ],
     "value": "transparent"
    }
   }
  },
  {
   "mark": {"type": "text", "radius": 300, "font": "DejaVu Sans", "fontSize": 22, "color": "black", "align": "center", "baseline": "middle"},
   "encoding": {"text": {"field": "etiqueta", "type": "nominal"}}
  }
 ]
 },
 {
  "width": 109,
  "height": 638,
  "view": {"stroke": "black", "strokeWidth": 2},
  "encoding": {
   "y": {"field": "mes", "type": "ordinal", "scale": {"domain": ["I","II","III","IV","V","VI","VII","VIII","IX","X","XI","XII"], "range": [36.5, 616], "padding": 0}, "axis": null}
  },
  "layer": [
   {
    "mark": {"type": "point", "shape": "square", "size": 484, "filled": true, "stroke": "black", "strokeWidth": 1.5, "opacity": 1, "xOffset": -22},
    "encoding": {
     "fill": {
      "condition": [
       {"test": "datum.mes === 'I'", "value": "#000000"},
       {"test": "datum.mes === 'II'", "value": "#363636"},
       {"test": "datum.mes === 'III'", "value": "#666666"},
       {"test": "datum.mes === 'IV'", "value": "#9c9c9c"},
       {"test": "datum.mes === 'V'", "value": "#ffffff"},
       {"test": "datum.mes === 'VI'", "value": {"gradient": "linear", "x1": 0, "y1": 0, "x2": 0, "y2": 1, "stops": [{"offset":0,"color":"#fff"},{"offset":0.38,"color":"#fff"},{"offset":0.38,"color":"#000"},{"offset":0.62,"color":"#000"},{"offset":0.62,"color":"#fff"},{"offset":1,"color":"#fff"}]}},
       {"test": "datum.mes === 'VII'", "value": {"gradient": "linear", "x1": 0, "y1": 0, "x2": 1, "y2": 0, "stops": [{"offset":0,"color":"#fff"},{"offset":0.22,"color":"#fff"},{"offset":0.22,"color":"#000"},{"offset":0.39,"color":"#000"},{"offset":0.39,"color":"#fff"},{"offset":0.61,"color":"#fff"},{"offset":0.61,"color":"#000"},{"offset":0.78,"color":"#000"},{"offset":0.78,"color":"#fff"},{"offset":1,"color":"#fff"}]}},
       {"test": "datum.mes === 'VIII'", "value": {"gradient": "linear", "x1": 0, "y1": 1, "x2": 1, "y2": 0, "stops": [{"offset":0,"color":"#000"},{"offset":0.125,"color":"#000"},{"offset":0.125,"color":"#fff"},{"offset":0.25,"color":"#fff"},{"offset":0.25,"color":"#000"},{"offset":0.375,"color":"#000"},{"offset":0.375,"color":"#fff"},{"offset":0.5,"color":"#fff"},{"offset":0.5,"color":"#000"},{"offset":0.625,"color":"#000"},{"offset":0.625,"color":"#fff"},{"offset":0.75,"color":"#fff"},{"offset":0.75,"color":"#000"},{"offset":0.875,"color":"#000"},{"offset":0.875,"color":"#fff"},{"offset":1,"color":"#fff"}]}},
       {"test": "datum.mes === 'IX'", "value": {"gradient": "linear", "x1": 0, "y1": 0, "x2": 1, "y2": 1, "stops": [{"offset":0,"color":"#000"},{"offset":0.125,"color":"#000"},{"offset":0.125,"color":"#fff"},{"offset":0.25,"color":"#fff"},{"offset":0.25,"color":"#000"},{"offset":0.375,"color":"#000"},{"offset":0.375,"color":"#fff"},{"offset":0.5,"color":"#fff"},{"offset":0.5,"color":"#000"},{"offset":0.625,"color":"#000"},{"offset":0.625,"color":"#fff"},{"offset":0.75,"color":"#fff"},{"offset":0.75,"color":"#000"},{"offset":0.875,"color":"#000"},{"offset":0.875,"color":"#fff"},{"offset":1,"color":"#fff"}]}},
       {"test": "datum.mes === 'X'", "value": {"gradient": "linear", "x1": 0, "y1": 0, "x2": 1, "y2": 0, "stops": [{"offset":0,"color":"#fff"},{"offset":0.3,"color":"#fff"},{"offset":0.3,"color":"#000"},{"offset":0.42,"color":"#000"},{"offset":0.42,"color":"#fff"},{"offset":1,"color":"#fff"}]}},
       {"test": "datum.mes === 'XI'", "value": {"gradient": "linear", "x1": 0, "y1": 0, "x2": 1, "y2": 1, "stops": [{"offset":0,"color":"#fff"},{"offset":0.46,"color":"#fff"},{"offset":0.46,"color":"#000"},{"offset":0.54,"color":"#000"},{"offset":0.54,"color":"#fff"},{"offset":1,"color":"#fff"}]}},
       {"test": "datum.mes === 'XII'", "value": {"gradient": "linear", "x1": 0, "y1": 0, "x2": 1, "y2": 1, "stops": [{"offset":0,"color":"#000"},{"offset":0.42,"color":"#000"},{"offset":0.42,"color":"#fff"},{"offset":0.52,"color":"#fff"},{"offset":0.52,"color":"#000"},{"offset":1,"color":"#000"}]}}
      ],
      "value": "#808080"
     }
    }
   },
   {
    "mark": {"type": "text", "align": "left", "baseline": "middle", "dx": 7, "font": "DejaVu Sans", "fontSize": 22, "color": "black"},
    "encoding": {"text": {"field": "mes", "type": "nominal"}}
   }
  ]
 }
 ]
}
